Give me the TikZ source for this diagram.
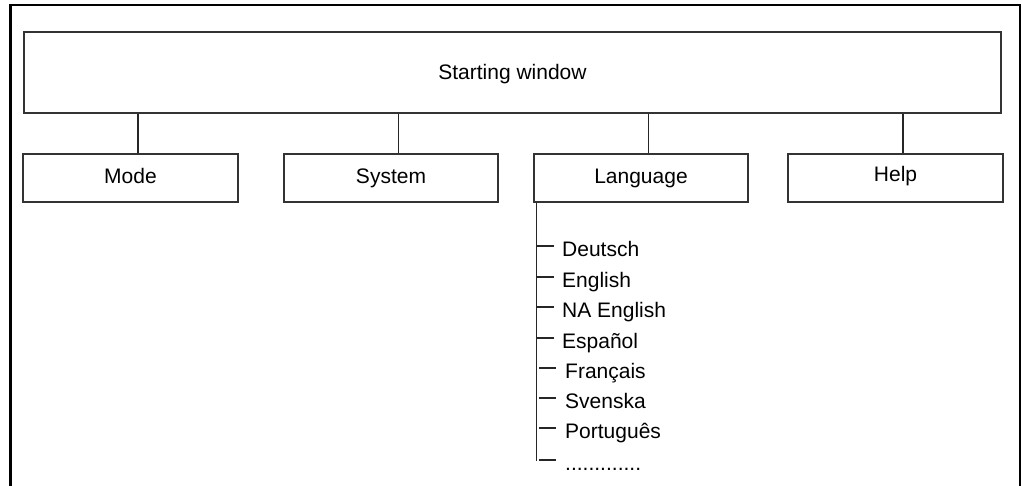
\documentclass[tikz,border=0pt]{standalone}
\usepackage{fontspec}
\setmainfont{Liberation Sans}
\newcommand\moreitems{.............}
\begin{document}
\begin{tikzpicture}[x=1pt,y=-1pt,
  frame/.style={line width=2.4pt,draw=black},
  box/.style={draw=black!80,line width=1.3pt,inner sep=0pt,
    font=\fontsize{21}{25}\selectfont},
  menubox/.style={box,minimum width=214pt,minimum height=48pt,
    text height=16pt,text depth=4pt},
  link/.style={draw=black!85,line width=1.2pt},
  item/.style={inner sep=0pt,anchor=base west,font=\fontsize{21}{25}\selectfont}]
\useasboundingbox (0,0) rectangle (1022,486);
% window frame, open at the bottom
\draw[frame] (10.5,486) -- (10.5,5) -- (1020,5) -- (1020,486);
% top level
\node[box,minimum width=977pt,minimum height=81pt,text height=19pt,text depth=4pt]
  (start) at (512.5,72.5) {Starting window};
% menu row
\node[menubox,minimum width=215pt] (mode) at (130.5,178) {Mode};
\node[menubox] (system) at (391,178) {System};
\node[menubox] (lang) at (641,178) {Language};
\node[menubox,minimum width=215pt] (help) at (895.5,178) {\raisebox{2pt}{Help}};
% links from the starting window to the menus
\foreach \m in {mode,system,lang,help}
  \draw[link] ([xshift=7.5pt]\m.north) -- ([xshift=7.5pt]\m.north |- start.south);
% language list
\coordinate (spine) at (536.5,461);
\draw[link,line width=1.6pt] (lang.south -| spine) -- (spine);
\foreach \n/\ty/\tx/\lx/\txt in {
    de/246/537/562/Deutsch,
    en/277/537/562/English,
    na/307/537/562/NA English,
    es/338/537/562/Español,
    fr/368/539/565/Français,
    sv/398/539/565/Svenska,
    pt/428/539/565/Português,
    more/460/539/565/\moreitems}{
  \coordinate (t\n) at (\tx,\ty);
  \node[item] (\n) at (\lx,\ty+10.5) {\txt};
  \draw[link,line width=1.6pt] (t\n) -- ++(17,0);
}
\end{tikzpicture}
\end{document}
